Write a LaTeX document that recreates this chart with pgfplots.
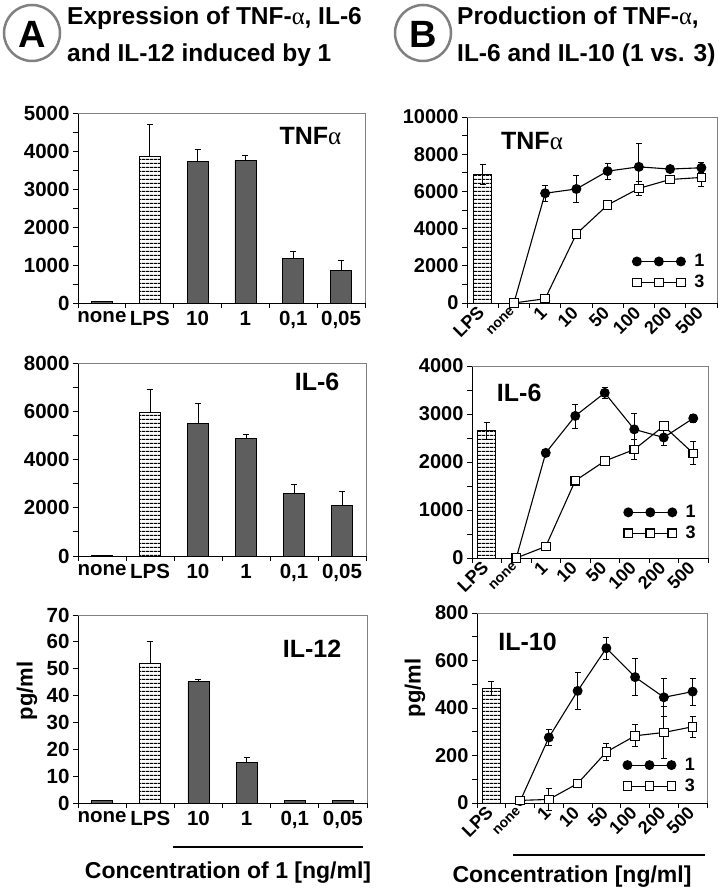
\documentclass[border=0pt]{standalone}
\usepackage{fontspec}
\setmainfont{Liberation Sans}
\newfontfamily\serifalpha{Liberation Serif}
\usepackage{pgfplots}
\pgfplotsset{compat=1.18}
\usetikzlibrary{patterns.meta}
\definecolor{barfill}{HTML}{5E5E5E}
\definecolor{framegray}{HTML}{808080}

\newcommand{\fs}[1]{\fontsize{#1}{#1}\selectfont\bfseries}
\newcommand{\al}{{\serifalpha\mdseries α}}

\pgfplotsset{
  panel/.style={
    scale only axis, axis lines=left, axis line style={-, line width=0.9pt},
    clip=false, xmin=-0.5, ymin=0, scaled y ticks=false,
    tick align=outside, major tick length=5pt, minor tick length=5pt,
    tick style={black, line width=0.9pt},
    major x tick style={draw=none},
    ticklabel style={font=\fs{20.5}},
    /pgf/number format/assume math mode=true,
    /pgf/number format/1000 sep={},
    after end axis/.code={\draw[framegray, line width=0.9pt]
      (rel axis cs:0,1) -- (rel axis cs:1,1) -- (rel axis cs:1,0);},
  },
  apanel/.style={panel, xmax=5.5, xtick={0,...,5},
    xticklabels={none,LPS,10,1,{0,1},{0,05}},
    minor xtick={-0.5,0.5,...,5.5}},
  bpanel/.style={panel, xmax=7.5, xtick={0,...,7},
    xticklabels={LPS,{\fs{14}none},1,10,50,100,200,500},
    minor xtick={-0.5,0.5,...,7.5},
    yticklabel style={font=\fs{20}},
    xticklabel style={rotate=45, anchor=east, font=\fs{18}, inner sep=2pt},
    legend style={draw=none, fill=none, font=\fs{18}, row sep=3pt},
    legend cell align=left,
    legend image code/.code={\draw plot coordinates {(0pt,0pt) (22pt,0pt) (44pt,0pt)};}},
  darkbar/.style={ybar, bar shift=0pt, bar width=21pt, fill=barfill, draw=black, line width=0.8pt},
  lpsbar/.style={ybar, bar shift=0pt, bar width=#1, draw=black, line width=0.8pt,
    pattern={Lines[angle=0,distance=4pt,line width=1.2pt]}},
  errp/.style={/pgfplots/error bars/y dir=plus, /pgfplots/error bars/y explicit,
    /pgfplots/error bars/error bar style={line width=0.8pt, black},
    /pgfplots/error bars/error mark options={rotate=90, mark size=3pt, line width=0.8pt, black}},
  errb/.style={/pgfplots/error bars/y dir=both, /pgfplots/error bars/y explicit,
    /pgfplots/error bars/error bar style={line width=0.8pt, black},
    /pgfplots/error bars/error mark options={rotate=90, mark size=3pt, line width=0.8pt, black}},
  sone/.style={black, line width=1.1pt, mark=*, mark size=4.4pt, mark options={fill=black, solid}},
  sthree/.style={black, line width=1.1pt, mark=square*, mark size=4.3pt, mark options={fill=white, solid}},
}

\begin{document}
\begin{tikzpicture}
\useasboundingbox (0,0) rectangle (726pt,891pt);

% ---------- headers ----------
\draw[framegray, line width=2.5pt] (32pt,858pt) circle[radius=28pt];
\node[font=\fs{38}] at (32pt,857pt) {A};
\node[anchor=base west, font=\fs{24.5}, inner sep=0pt] at (67pt,866pt) {Expression of TNF-\al, IL-6};
\node[anchor=base west, font=\fs{24.5}, inner sep=0pt] at (67pt,829pt) {and IL-12 induced by 1};
\draw[framegray, line width=2.5pt] (423pt,858pt) circle[radius=28pt];
\node[font=\fs{38}] at (423pt,857pt) {B};
\node[anchor=base west, font=\fs{24.5}, inner sep=0pt] at (457pt,866pt) {Production of TNF-\al,};
\node[anchor=base west, font=\fs{24.5}, inner sep=0pt] at (457pt,829pt) {IL-6 and IL-10 (1 vs. 3)};

% ---------- A1: TNF ----------
\begin{axis}[apanel, at={(78pt,588pt)}, anchor=south west, width=287pt, height=190pt,
  ymax=5000, ytick={0,1000,...,5000}, minor y tick num=1]
  \addplot[darkbar] coordinates {(0,30)};
  \addplot[lpsbar=21pt, errp] coordinates {(1,3860) +- (0,830)};
  \addplot[darkbar, errp] coordinates {(2,3730) +- (0,300) (3,3750) +- (0,140) (4,1170) +- (0,175) (5,850) +- (0,275)};
  \node[font=\fs{25}] at (rel axis cs:0.81,0.88) {TNF\al};
\end{axis}

% ---------- A2: IL-6 ----------
\begin{axis}[apanel, at={(78pt,335pt)}, anchor=south west, width=288pt, height=193pt,
  ymax=8000, ytick={0,2000,...,8000}, minor y tick num=1]
  \addplot[darkbar] coordinates {(0,40)};
  \addplot[lpsbar=21pt, errp] coordinates {(1,5950) +- (0,970)};
  \addplot[darkbar, errp] coordinates {(2,5510) +- (0,830) (3,4860) +- (0,170) (4,2600) +- (0,350) (5,2080) +- (0,580)};
  \node[font=\fs{25}] at (rel axis cs:0.83,0.90) {IL-6};
\end{axis}

% ---------- A3: IL-12 ----------
\begin{axis}[apanel, at={(78pt,88pt)}, anchor=south west, width=289pt, height=188pt,
  ymax=70, ytick={0,10,...,70}]
  \addplot[darkbar] coordinates {(0,1) (4,1) (5,1)};
  \addplot[lpsbar=21pt, errp] coordinates {(1,52) +- (0,8.3)};
  \addplot[darkbar, errp] coordinates {(2,45.2) +- (0,0.9) (3,15.1) +- (0,1.9)};
  \node[font=\fs{25}] at (rel axis cs:0.81,0.82) {IL-12};
\end{axis}

% ---------- B1: TNF ----------
\begin{axis}[bpanel, at={(467pt,588pt)}, anchor=south west, width=250pt, height=186pt,
  ymax=10000, ytick={0,2000,...,10000}, minor y tick num=1,
  legend style={at={(0.97,0.05)}, anchor=south east}]
  \addplot[forget plot, lpsbar=18pt, errb] coordinates {(0,6910) +- (0,550)};
  \addplot[sone, errb] coordinates {(1,0) +- (0,0) (2,5900) +- (0,420) (3,6130) +- (0,720) (4,7090) +- (0,430) (5,7320) +- (0,1250) (6,7200) +- (0,150) (7,7270) +- (0,270)};
  \addlegendentry{\hspace{7pt}1}
  \addplot[sthree, errb] coordinates {(1,0) +- (0,0) (2,230) +- (0,0) (3,3710) +- (0,0) (4,5270) +- (0,200) (5,6160) +- (0,400) (6,6640) +- (0,100) (7,6750) +- (0,480)};
  \addlegendentry{\hspace{7pt}3}
  \node[font=\fs{25}] at (rel axis cs:0.26,0.87) {TNF\al};
\end{axis}

% ---------- B2: IL-6 ----------
\begin{axis}[bpanel, at={(472pt,333pt)}, anchor=south west, width=236pt, height=192pt,
  ymax=4000, ytick={0,1000,...,4000}, minor y tick num=1,
  legend style={at={(0.97,0.07)}, anchor=south east}]
  \addplot[forget plot, lpsbar=18pt, errb] coordinates {(0,2650) +- (0,185)};
  \addplot[sone, errb] coordinates {(1,0) +- (0,0) (2,2190) +- (0,70) (3,2960) +- (0,250) (4,3440) +- (0,110) (5,2680) +- (0,340) (6,2510) +- (0,160) (7,2910) +- (0,80)};
  \addlegendentry{\hspace{7pt}1}
  \addplot[sthree, errb] coordinates {(1,0) +- (0,0) (2,240) +- (0,0) (3,1610) +- (0,60) (4,2020) +- (0,60) (5,2260) +- (0,210) (6,2750) +- (0,60) (7,2180) +- (0,240)};
  \addlegendentry{\hspace{7pt}3}
  \node[font=\fs{25}] at (rel axis cs:0.20,0.86) {IL-6};
\end{axis}

% ---------- B3: IL-10 ----------
\begin{axis}[bpanel, at={(477pt,88pt)}, anchor=south west, width=230pt, height=190pt,
  ymax=800, ytick={0,200,...,800}, minor y tick num=1,
  legend style={at={(0.97,0.03)}, anchor=south east}]
  \addplot[forget plot, lpsbar=18pt, errb] coordinates {(0,483) +- (0,30)};
  \addplot[sone, errb] coordinates {(1,8) +- (0,0) (2,276) +- (0,32) (3,472) +- (0,78) (4,652) +- (0,46) (5,530) +- (0,79) (6,445) +- (0,81) (7,469) +- (0,56)};
  \addlegendentry{\hspace{7pt}1}
  \addplot[sthree, errb] coordinates {(1,11) +- (0,0) (2,15) +- (0,48) (3,82) +- (0,0) (4,215) +- (0,35) (5,283) +- (0,46) (6,297) +- (0,108) (7,321) +- (0,44)};
  \addlegendentry{\hspace{7pt}3}
  \node[font=\fs{25}] at (rel axis cs:0.22,0.85) {IL-10};
\end{axis}

% ---------- axis titles and concentration bars ----------
\node[rotate=90, font=\fs{22}] at (27pt,200pt) {pg/ml};
\node[rotate=90, font=\fs{22}] at (415pt,203pt) {pg/ml};
\draw[line width=1.2pt] (173pt,44pt) -- (363pt,44pt);
\node[font=\fs{23}] at (228pt,18pt) {Concentration of 1 [ng/ml]};
\draw[line width=1.2pt] (513pt,36pt) -- (705pt,36pt);
\node[font=\fs{23}] at (572pt,14pt) {Concentration [ng/ml]};
\end{tikzpicture}
\end{document}
